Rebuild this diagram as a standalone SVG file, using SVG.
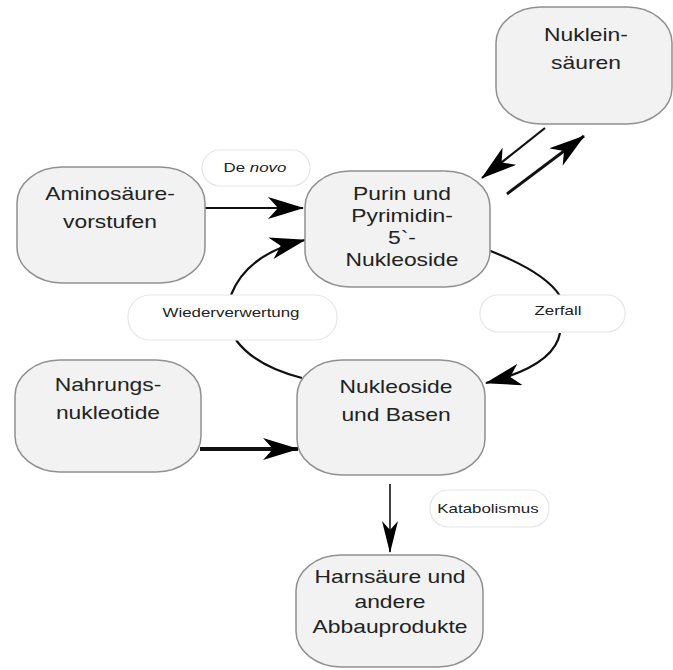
<svg xmlns="http://www.w3.org/2000/svg" width="673" height="670" viewBox="0 0 673 670">
<style>
.node{fill:#f1f2f1;stroke:#909090;stroke-width:1.5}
.pill{fill:#ffffff;stroke:#e6e6e6;stroke-width:1.2}
.nt{font-family:"Liberation Sans",Arial,sans-serif;font-size:18px;fill:#222;text-anchor:middle}
.lt{font-family:"Liberation Sans",Arial,sans-serif;font-size:13px;fill:#222;text-anchor:middle}
.con{fill:none;stroke:#111;stroke-width:2.2}
</style>
<defs>
<marker id="ah" viewBox="0 0 36 22" refX="35" refY="11" markerWidth="36" markerHeight="22" markerUnits="userSpaceOnUse" orient="auto">
<path d="M0,0 L36,11 L0,22 L10,11 z" fill="#000"/>
</marker>
<marker id="ahs" viewBox="0 0 32 16" refX="31" refY="8" markerWidth="32" markerHeight="16" markerUnits="userSpaceOnUse" orient="auto">
<path d="M0,0 L32,8 L0,16 L9,8 z" fill="#000"/>
</marker>
</defs>
<g id="connectors">
<path class="con" d="M205,208 L303,208" marker-end="url(#ah)"/>
<path class="con" d="M200,449 L298,449" style="stroke-width:4" marker-end="url(#ah)"/>
<path class="con" d="M302,378 Q255,366 236,340"/>
<path class="con" d="M231,295 Q247,254 305,240" marker-end="url(#ah)"/>
<path class="con" d="M488,250 Q545,272 560,296"/>
<path class="con" d="M560,333 Q554,366 486,383" marker-end="url(#ah)"/>
<path class="con" d="M390,484 L390,552" style="stroke-width:1.6" marker-end="url(#ahs)"/>
<path class="con" d="M545,128 L482,178" marker-end="url(#ah)"/>
<path class="con" d="M507,194 L584,136" style="stroke-width:3" marker-end="url(#ah)"/>
</g>
<g id="nukleinsaeuren">
<rect class="node" x="496" y="7" width="176" height="117" rx="45" ry="36"/>
<text class="nt" transform="matrix(1.27 0 0 1 586 0)"><tspan x="0" y="41">Nuklein-</tspan><tspan x="0" y="69">säuren</tspan></text>
</g>
<g id="aminosaeure">
<rect class="node" x="17" y="167" width="188" height="116" rx="45" ry="36"/>
<text class="nt" transform="matrix(1.27 0 0 1 110 0)"><tspan x="0" y="200">Aminosäure-</tspan><tspan x="0" y="228">vorstufen</tspan></text>
</g>
<g id="purin">
<rect class="node" x="305" y="171" width="185" height="116" rx="45" ry="36"/>
<text class="nt" transform="matrix(1.27 0 0 1 402 0)"><tspan x="0" y="200">Purin und</tspan><tspan x="0" y="222">Pyrimidin-</tspan><tspan x="0" y="244">5`-</tspan><tspan x="0" y="266">Nukleoside</tspan></text>
</g>
<g id="nahrung">
<rect class="node" x="15" y="360" width="186" height="112" rx="45" ry="36"/>
<text class="nt" transform="matrix(1.27 0 0 1 108 0)"><tspan x="0" y="391">Nahrungs-</tspan><tspan x="0" y="419">nukleotide</tspan></text>
</g>
<g id="nukleoside">
<rect class="node" x="297" y="360" width="188" height="115" rx="45" ry="36"/>
<text class="nt" transform="matrix(1.27 0 0 1 396 0)"><tspan x="0" y="393">Nukleoside</tspan><tspan x="0" y="421">und Basen</tspan></text>
</g>
<g id="harnsaeure">
<rect class="node" x="296" y="555" width="187" height="112" rx="45" ry="36"/>
<text class="nt" transform="matrix(1.27 0 0 1 390 0)"><tspan x="0" y="583">Harnsäure und</tspan><tspan x="0" y="608">andere</tspan><tspan x="0" y="633">Abbauprodukte</tspan></text>
</g>
<g id="label-denovo">
<rect class="pill" x="202" y="150" width="108" height="36" rx="18"/>
<text class="lt" transform="matrix(1.3 0 0 1 255 0)" y="172">De <tspan font-style="italic">novo</tspan></text>
</g>
<g id="label-wiederverwertung">
<rect class="pill" x="128" y="295" width="209" height="45" rx="22"/>
<text class="lt" transform="matrix(1.3 0 0 1 231 0)" y="317">Wiederverwertung</text>
</g>
<g id="label-zerfall">
<rect class="pill" x="480" y="295" width="145" height="37" rx="18"/>
<text class="lt" transform="matrix(1.3 0 0 1 558 0)" y="315">Zerfall</text>
</g>
<g id="label-katabolismus">
<rect class="pill" x="430" y="490" width="119" height="37" rx="18"/>
<text class="lt" transform="matrix(1.3 0 0 1 488 0)" y="513">Katabolismus</text>
</g>
</svg>
